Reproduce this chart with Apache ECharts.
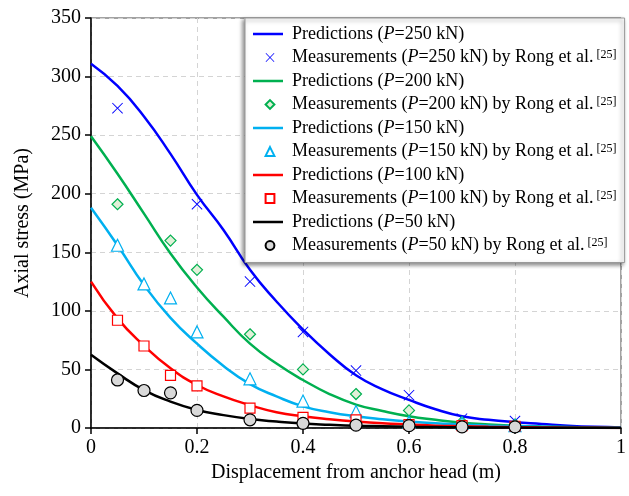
<!DOCTYPE html>
<html><head><meta charset="utf-8">
<script src="https://cdn.jsdelivr.net/npm/echarts@6/dist/echarts.min.js"></script>
<style>html,body{margin:0;padding:0;background:#fff}#c{width:629px;height:496px}</style>
</head><body><div id="c"></div>
<script>
const xGrid = [0,0.05,0.1,0.15,0.2,0.25,0.3,0.35,0.4,0.45,0.5,0.55,0.6,0.65,0.7,0.75,0.8,0.85,0.9,0.95,1];
const pred250 = [311,292,266,234,199,169,135,108,84,63,45,33,24,16,10,7,5,3.5,2,1,0.5];
const pred200 = [249,217,183,149,120,95,72,55,41,29,20,14.5,10,7,4.5,3,2,1.3,0.8,0.4,0.2];
const pred150 = [188,156,122,94,72,53,37.5,27,18.5,13.5,10,7.5,5.5,4,3,2,1.5,1,0.6,0.4,0.2];
const pred100 = [125,93.6,70.3,51,36.7,27,19.5,13.5,10,7.5,5.5,4,3,2,1.5,1,0.7,0.5,0.3,0.2,0.1];
const pred50  = [62.5,46.6,32.4,22.5,15.4,11,7.7,5.5,3.8,2.8,2,1.5,1.1,0.8,0.6,0.45,0.35,0.25,0.2,0.15,0.1];

const meas250 = [[0.05,273],[0.2,191],[0.3,125],[0.4,82],[0.5,49],[0.6,28],[0.7,8],[0.8,6]];
const meas200 = [[0.05,191],[0.15,160],[0.2,135],[0.3,80],[0.4,50],[0.5,29],[0.6,15],[0.7,5],[0.8,3]];
const meas150 = [[0.05,156],[0.1,123],[0.15,111],[0.2,82],[0.3,42],[0.4,23],[0.5,14],[0.6,5],[0.7,4],[0.8,2]];
const meas100 = [[0.05,92],[0.1,70],[0.15,45],[0.2,36],[0.3,17],[0.4,9],[0.5,7],[0.6,3],[0.7,2],[0.8,1.5]];
const meas50  = [[0.05,41],[0.1,32],[0.15,30],[0.2,15],[0.3,7],[0.4,4],[0.5,2.5],[0.6,2],[0.7,1],[0.8,1]];

const xTicks = [0,0.2,0.4,0.6,0.8,1];
const yTicks = [0,50,100,150,200,250,300,350];
const loads = ['250','200','150','100','50'];

const colors = ['#0000ff','#00b050','#00b0f0','#ff0000','#000000'];
const preds = [pred250,pred200,pred150,pred100,pred50];
const meas = [meas250,meas200,meas150,meas100,meas50];
const xBody = 'M0,6L6,0L50,44L94,0L100,6L56,50L100,94L94,100L50,56L6,100L0,94L44,50Z';
const xPath = 'path://' + xBody;
const symbols = [xPath,'diamond','triangle','rect','circle'];
const symSize = [11,11,12,10,12];
const fills = ['#0000ff','#e2f0d9','#ffffff','#ffffff','#d9d9d9'];
// legend icons: same glyphs with empty margin so they draw small inside the legend slot
const pad = 'M-18,-18L-18,-18ZM118,118L118,118Z';
const legIcons = [
  'path://' + pad + xBody,
  'path://' + pad + 'M50,0L100,50L50,100L0,50Z',
  'path://' + pad + 'M50,0L100,100L0,100Z',
  'path://' + pad + 'M0,0L100,0L100,100L0,100Z',
  'path://' + pad + 'M100,50A50,50,0,1,1,0,50A50,50,0,1,1,100,50Z'
];
const lineIcon = 'path://M0,0H30V2.5H0ZM34,0L34,0Z';

const F = 'Liberation Serif, Times New Roman, serif';
const series = [];
const legendData = [];
loads.forEach((p,i)=>{
  const pn = 'Predictions (P=' + p + ' kN)';
  const mn = 'Measurements (P=' + p + ' kN) by Rong et al.';
  series.push({
    name: pn, type:'line', smooth:0.5, showSymbol:false, symbol:'none',
    data: xGrid.map((x,k)=>[x,preds[i][k]]),
    lineStyle:{color:colors[i],width:2.5}, itemStyle:{color:colors[i]}, z:2
  });
  series.push({
    name: mn, type:'scatter', symbol:symbols[i], symbolSize:symSize[i],
    data: meas[i],
    itemStyle: i===0 ? {color:colors[0],borderWidth:0,opacity:1} : {color:fills[i],borderColor:colors[i],borderWidth:1.2,opacity:1},
    z:3
  });
  legendData.push({name:pn, icon:lineIcon, itemStyle:{color:colors[i]}});
  legendData.push({name:mn, icon:legIcons[i]});
});

const chart = echarts.init(document.getElementById('c'));
chart.setOption({
  animation:false,
  grid:{left:91,right:2,top:18,bottom:68,show:true,borderColor:'#444',borderWidth:1},
  xAxis:{type:'value',min:0,max:1,interval:0.2,
    name:'Displacement from anchor head (m)',nameLocation:'middle',nameGap:35,
    nameTextStyle:{fontFamily:F,fontSize:20,color:'#000'},
    axisLine:{show:true,onZero:false,lineStyle:{color:'#000',width:1.5}},
    axisTick:{show:true,inside:false,length:6,lineStyle:{color:'#000',width:1.5}},
    axisLabel:{fontFamily:F,fontSize:20,color:'#000',margin:10},
    splitLine:{show:true,lineStyle:{color:'#d4d4d4',type:[5,4],width:1}}
  },
  yAxis:{type:'value',min:0,max:350,interval:50,
    name:'Axial stress (MPa)',nameLocation:'middle',nameGap:58,
    nameTextStyle:{fontFamily:F,fontSize:20,color:'#000'},
    axisLine:{show:true,onZero:false,lineStyle:{color:'#000',width:1.5}},
    axisTick:{show:true,inside:false,length:6,lineStyle:{color:'#000',width:1.5}},
    axisLabel:{fontFamily:F,fontSize:20,color:'#000',margin:10},
    splitLine:{show:true,lineStyle:{color:'#d4d4d4',type:[5,4],width:1}}
  },
  legend:{
    orient:'vertical', left:245, top:18, data:legendData,
    backgroundColor:'#fff', borderColor:'#999', borderWidth:1, borderRadius:0,
    padding:[7,8,8,8], itemGap:5.5, itemWidth:34, itemHeight:12,
    symbolKeepAspect:true,
    shadowBlur:4, shadowColor:'rgba(0,0,0,0.45)', shadowOffsetX:-2, shadowOffsetY:2,
    textStyle:{fontFamily:F,fontSize:18,color:'#000',lineHeight:18,
      rich:{
        n:{fontFamily:F,fontSize:18,color:'#000',lineHeight:18},
        i:{fontFamily:F,fontSize:18,color:'#000',fontStyle:'italic',lineHeight:18},
        s:{fontFamily:F,fontSize:12,color:'#000',verticalAlign:'top',lineHeight:18,padding:[0,0,6,0]}
      }},
    formatter:function(name){
      const m = name.match(/^(.*)\(P=(\d+) kN\)(.*)$/);
      let s = '{n|' + m[1] + '(}{i|P}{n|=' + m[2] + ' kN)' + m[3] + '}';
      if (m[3].length) s += '{s| [25]}';
      return s;
    }
  },
  series:series
});
</script></body></html>
